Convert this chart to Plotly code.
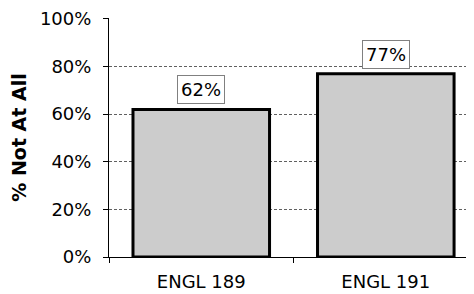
import plotly.graph_objects as go

categories = ["ENGL 189", "ENGL 191"]
values = [0.62, 0.77]
labels = ["62%", "77%"]
y_ticks = [0, 0.2, 0.4, 0.6, 0.8, 1.0]
y_title = "% Not At All"

FONT = "DejaVu Sans, Verdana, sans-serif"

fig = go.Figure()
fig.add_trace(go.Bar(
    x=categories, y=values,
    marker=dict(color="#cccccc", line=dict(color="black", width=3)),
    width=0.74,
))

for c, v, t in zip(categories, values, labels):
    fig.add_annotation(
        x=c, y=v, text=t, showarrow=False, yanchor="bottom", yshift=5,
        font=dict(family=FONT, size=18, color="black"),
        bgcolor="white", bordercolor="#808080", borderwidth=1, borderpad=3,
    )

# page body has an 8px default margin, so the figure is sized to fit the window
fig.update_layout(
    width=466, height=286,
    margin=dict(l=101, r=0, t=10, b=37),
    plot_bgcolor="white", paper_bgcolor="white",
    font=dict(family=FONT, size=18, color="black"),
    showlegend=False,
    xaxis=dict(
        type="category", range=[-0.5, 1.478], automargin=False,
        showline=True, linecolor="black", linewidth=1,
        ticks="outside", tickson="boundaries", ticklen=5, tickcolor="black",
        showgrid=False, tickfont=dict(family=FONT, size=18),
        ticklabelstandoff=8,
    ),
    yaxis=dict(
        range=[0, 1.004], tickvals=y_ticks, tickformat=".0%", automargin=False,
        showline=True, linecolor="black", linewidth=1,
        ticks="outside", ticklen=5, tickcolor="black",
        showgrid=True, gridcolor="#606060", gridwidth=1, griddash="3px,2px",
        zeroline=False,
        title=dict(text=y_title, font=dict(family=FONT, size=19, weight="bold"), standoff=10),
        tickfont=dict(family=FONT, size=18),
        ticklabelstandoff=8,
    ),
)

fig.write_html("out.html")
